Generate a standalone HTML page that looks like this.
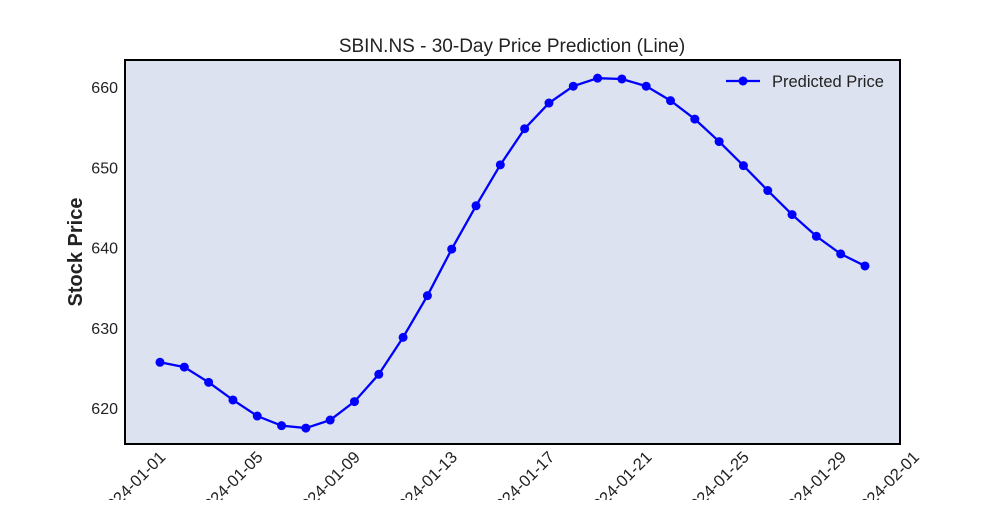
<!DOCTYPE html>
<html><head><meta charset="utf-8"><style>
body{margin:0;background:#fff;}
svg text{font-family:"Liberation Sans",Arial,sans-serif;fill:#222;}
</style></head><body>
<svg id="chart" width="1000" height="500" xmlns="http://www.w3.org/2000/svg">
<text x="512" y="52" font-size="19" text-anchor="middle">SBIN.NS - 30-Day Price Prediction (Line)</text>
<rect x="125" y="60" width="775" height="384" fill="#dce2ef"/>
<g id="xticks"></g>
<g id="yticks"></g>
<text transform="translate(82,252) rotate(-90)" font-size="20" font-weight="bold" text-anchor="middle">Stock Price</text>
<polyline id="line" fill="none" stroke="#0000ff" stroke-width="2.3"/>
<g id="pts"></g>
<rect x="125" y="60" width="775" height="384" fill="none" stroke="#000" stroke-width="2"/>
<g>
<line x1="726" y1="81" x2="760" y2="81" stroke="#0000ff" stroke-width="2.3"/>
<circle cx="743" cy="81" r="4.5" fill="#0000ff"/>
<text x="772" y="87" font-size="16.5">Predicted Price</text>
</g>
</svg>
<script>
const values=[625.7,625.1,623.2,621.0,619.0,617.8,617.5,618.5,620.8,624.2,628.8,634.0,639.8,645.2,650.3,654.8,658.0,660.1,661.1,661.0,660.1,658.3,656.0,653.2,650.2,647.1,644.1,641.4,639.2,637.7];
const startDay=2; // Jan 2
const xTickDays=[1,5,9,13,17,21,25,29,32];
const xTickLabels=["2024-01-01","2024-01-05","2024-01-09","2024-01-13","2024-01-17","2024-01-21","2024-01-25","2024-01-29","2024-02-01"];
const yTicks=[620,630,640,650,660];
const NS="http://www.w3.org/2000/svg";
function xs(d){return 160+(d-2)*24.31;}
function ys(v){return 408-(v-620)*8.025;}
const xg=document.getElementById('xticks'),yg=document.getElementById('yticks');
xTickDays.forEach((d,i)=>{
 const t=document.createElementNS(NS,'text');
 
 
 const x=xs(d)+1;
 t.setAttribute('transform',`translate(${x},488) rotate(-45)`);
 t.setAttribute('text-anchor','middle');t.setAttribute('font-size','16.5');
 t.textContent=xTickLabels[i];xg.appendChild(t);
});
yTicks.forEach(v=>{
 const t=document.createElementNS(NS,'text');
 
 
 t.setAttribute('x',118);t.setAttribute('y',ys(v)+6);
 t.setAttribute('text-anchor','end');t.setAttribute('font-size','16');
 t.textContent=v;yg.appendChild(t);
});
const pts=values.map((v,i)=>[xs(startDay+i),ys(v)]);
document.getElementById('line').setAttribute('points',pts.map(p=>p.join(',')).join(' '));
const pg=document.getElementById('pts');
pts.forEach(p=>{
 const c=document.createElementNS(NS,'circle');
 
 
 c.setAttribute('cx',p[0]);c.setAttribute('cy',p[1]);c.setAttribute('r',4.5);c.setAttribute('fill','#0000ff');
 pg.appendChild(c);
});
</script>
</body></html>
